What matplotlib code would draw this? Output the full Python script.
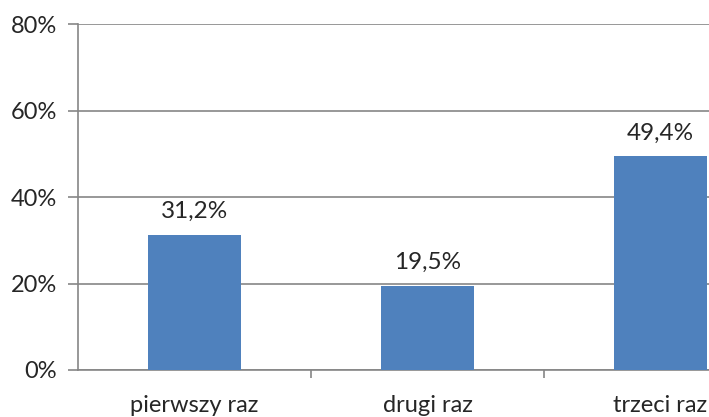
import matplotlib
matplotlib.use("Agg")
import matplotlib.pyplot as plt
from matplotlib.ticker import FuncFormatter

categories = ["pierwszy raz", "drugi raz", "trzeci raz"]
values = [31.2, 19.5, 49.4]
yticks = [0, 20, 40, 60, 80]

plt.rcParams['font.family'] = ['Lato', 'DejaVu Sans']

fig = plt.figure(figsize=(7.09, 4.17), dpi=100)
W, H = 709, 417
ax = fig.add_axes([78 / W, 47 / H, (777 - 78) / W, 346 / H])

x = list(range(len(categories)))
ax.bar(x, values, width=0.4, color="#4F81BD", zorder=3)
ax.set_xlim(-0.5, 2.5)
ax.set_ylim(0, 80)
ax.set_yticks(yticks)
ax.yaxis.set_major_formatter(FuncFormatter(lambda v, p: f"{int(v)}%"))
ax.grid(axis="y", color="#868686", linewidth=1.2, zorder=0)

for s in ["top", "right"]:
    ax.spines[s].set_visible(False)
for s in ["left", "bottom"]:
    ax.spines[s].set_color("#868686")
    ax.spines[s].set_linewidth(1.2)

ax.set_xticks(x)
ax.set_xticklabels(categories)
ax.set_xticks([0.5, 1.5], minor=True)
ax.tick_params(axis="x", which="major", length=0, pad=18, labelsize=17, colors="#262626")
ax.tick_params(axis="x", which="minor", length=6, color="#868686", width=1.2)
ax.tick_params(axis="y", length=7, color="#868686", width=1.2, labelsize=17, labelcolor="#262626", pad=8)

for xi, v in zip(x, values):
    ax.text(xi, v + 3, f"{v:.1f}%".replace(".", ","), ha="center", va="bottom",
            fontsize=17.5, color="#262626")

fig.savefig("out.png", dpi=100)
